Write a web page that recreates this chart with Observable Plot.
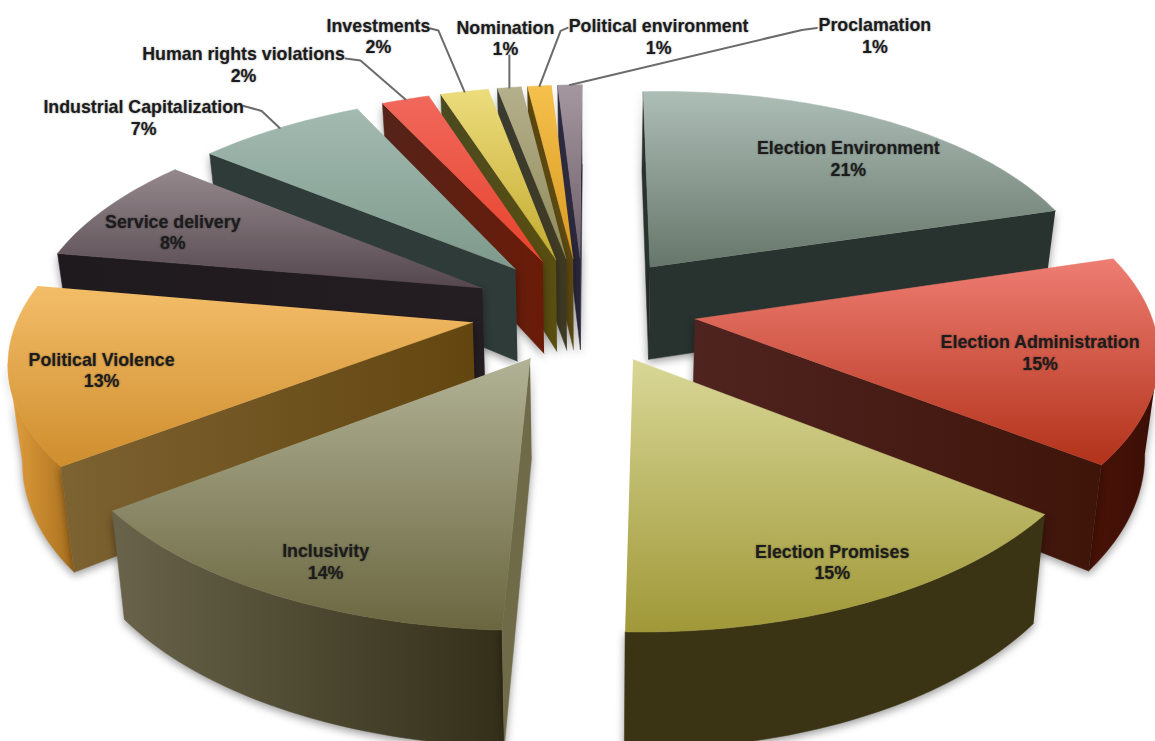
<!DOCTYPE html>
<html>
<head>
<meta charset="utf-8">
<script src="https://cdn.jsdelivr.net/npm/d3@7"></script>
<script src="https://cdn.jsdelivr.net/npm/@observablehq/plot@0.6"></script>
<style>
  html, body { margin: 0; padding: 0; background: #fff; }
  svg g[fill^="url(#rim"], svg g[fill^="url(#cut"] { filter: drop-shadow(0 3px 4px rgba(0,0,0,.4)); }
  svg g[aria-label="text"] text { text-shadow: 0 0 2px rgba(0,0,0,.45); }
</style>
</head>
<body>
<script>
// Shares of election-related themes, clockwise from twelve o'clock.
const categories = [
  "Election Environment", "Election Administration", "Election Promises", "Inclusivity",
  "Political Violence", "Service delivery", "Industrial Capitalization",
  "Human rights violations", "Investments", "Nomination", "Political environment", "Proclamation"
];
const shares = [21, 15, 15, 14, 13, 8, 7, 2, 2, 1, 1, 1];

// Face colours: [back of top face, front of top face]
const topColors = [
  ["#adbeb7", "#66766a"], ["#ee7d72", "#b2321a"], ["#d8d796", "#a09838"], ["#b2b296", "#6a6740"],
  ["#f3bd68", "#cf8e2e"], ["#94888d", "#54474d"], ["#a3bab0", "#7e9a8c"], ["#f0685c", "#e8432c"],
  ["#ecdc7c", "#c4ab30"], ["#b5b08c", "#8f8a5a"], ["#f5c04c", "#d89a20"], ["#a5979f", "#6c5f68"]
];
// Cut-face colours: [left, right]
const cutColors = [
  ["#28322f", "#28322f"], ["#4f2420", "#3f1409"], ["#3a3415", "#3a3415"], ["#6f6a48", "#6f6a48"],
  ["#7d6232", "#63460f"], ["#1f1a1e", "#241d22"], ["#2f3b38", "#2f3b38"], ["#55231a", "#6a1b08"],
  ["#4a4a20", "#5a4e10"], ["#3a3a30", "#3f3a22"], ["#5a4510", "#5e4a12"], ["#2d2a40", "#2d2a40"]
];
// Outer-wall colours: [left, right]
const rimColors = [
  ["#28322f", "#28322f"], ["#4a1206", "#3a0e05"], ["#3a3415", "#3a3415"], ["#68634a", "#332f19"],
  ["#e3a03e", "#a86f1e"], ["#1f1a1e", "#1f1a1e"], ["#2f3b38", "#2f3b38"], ["#55231a", "#55231a"],
  ["#4a4a20", "#4a4a20"], ["#3a3a30", "#3a3a30"], ["#5a4510", "#5a4510"], ["#2d2a40", "#2d2a40"]
];

// Label placement: radial fraction of the anchor, then the label's shift from that anchor.
const labelRadius = [0.6, 0.6, 0.6, 0.6, 0.6, 0.6, 1, 1, 1, 1, 1, 1];
const labelShift = [
  [50, -17], [67, 9], [62, 66], [-62, 70], [-100, 16], [-82, -7],
  [-136, -11], [-162, -35], [-86, -56], [-4, -50], [119, -50], [305, -50]
];
// Bend of each leader line, relative to its rim anchor; null where it runs straight.
const leaderBend = [null, null, null, null, null, null,
  [-18, -17], [-45, -39], [-26, -61], null, [21, -55], [232, -55]];
const leaderEnd = [null, null, null, null, null, null,
  [-36, -22], [-60, -41], [-34, -63], [0, -32], [28, -58], [247, -57]];

// View of the tilted, exploded pie.
const view = {
  cx: 593, cy: 309, aLeft: 460, aRight: 444, b: 214, tilt: 0.152, burst: 0.25,
  turn: -1, depth: 95, squeeze: 0.025, pivot: -8, lift: 5
};

const project = (X, Y) => {
  const s = 1 / (1 - view.tilt * Y);
  const a = X < 0 ? view.aLeft : view.aRight;
  return {x: view.cx + a * X * s, y: view.cy + view.b * Y * s - view.lift * Math.max(X, 0), s};
};
const below = (p) => ({
  x: view.cx + (p.x - view.cx) * (1 - view.squeeze),
  y: p.y + view.depth * p.s
});

const total = d3.sum(shares);
let running = 0;
const slices = shares.map((share, i) => {
  const a0 = (running / total) * 2 * Math.PI + view.turn * Math.PI / 180;
  running += share;
  const a1 = (running / total) * 2 * Math.PI + view.turn * Math.PI / 180;
  const mid = (a0 + a1) / 2;
  const ox = view.burst * Math.sin(mid), oy = -view.burst * Math.cos(mid);
  const polar = (a, r) => project(ox + r * Math.sin(a), oy - r * Math.cos(a));
  const steps = Math.max(4, Math.ceil(share * 3));
  const rim = d3.range(steps + 1).map((k) => polar(a0 + ((a1 - a0) * k) / steps, 1));
  const tip = polar(mid, 0);
  return {i, a0, a1, mid, apex: {...tip, x: tip.x + view.pivot}, rim, polar, oy};
});

// Back slices first so nearer ones paint over them.
const paintOrder = [...slices].sort((p, q) => p.oy - q.oy);

const quad = (p, q) => [p, q, below(q), below(p)];
const facesViewer = (p, q) => p.x > q.x;

const gradient = (id, from, to, vertical) => `
  <linearGradient id="${id}" x1="0" y1="0" x2="${vertical ? 0 : 1}" y2="${vertical ? 1 : 0}">
    <stop offset="0" stop-color="${from}"/><stop offset="1" stop-color="${to}"/>
  </linearGradient>`;

const defsMark = () => {
  const g = document.createElementNS("http://www.w3.org/2000/svg", "defs");
  g.innerHTML = categories.map((_, i) =>
    gradient(`top${i}`, topColors[i][0], topColors[i][1], true) +
    gradient(`cut${i}`, cutColors[i][0], cutColors[i][1], false) +
    gradient(`rim${i}`, rimColors[i][0], rimColors[i][1], false)
  ).join("");
  return g;
};

const face = (points, paint) =>
  Plot.line(points, {x: "x", y: "y", fill: paint, stroke: paint, strokeWidth: 0.5});

const sliceMarks = paintOrder.flatMap(({i, apex, rim}) => {
  const marks = [];
  const first = rim[0], last = rim[rim.length - 1];
  // Outer wall: the run of rim segments turned toward the viewer.
  const visible = rim.slice(0, -1).flatMap((p, k) => (facesViewer(p, rim[k + 1]) ? [p, rim[k + 1]] : []));
  if (visible.length) {
    marks.push(face([...visible, ...visible.map(below).reverse()], `url(#rim${i})`));
  }
  if (facesViewer(apex, first)) marks.push(face(quad(apex, first), `url(#cut${i})`));
  if (facesViewer(last, apex)) marks.push(face(quad(last, apex), `url(#cut${i})`));
  marks.push(face([apex, ...rim], `url(#top${i})`));
  return marks;
});

const labels = slices.map(({i, mid, polar}) => {
  const p = polar(mid, labelRadius[i]);
  return {text: `${categories[i]}\n${shares[i]}%`, x: p.x + labelShift[i][0], y: p.y + labelShift[i][1]};
});

const leaders = slices.flatMap(({i, mid, polar}) => {
  if (!leaderEnd[i]) return [];
  const p = polar(mid, 1);
  const bend = leaderBend[i] ? [{i, x: p.x + leaderBend[i][0], y: p.y + leaderBend[i][1]}] : [];
  return [{i, x: p.x, y: p.y}, ...bend, {i, x: p.x + leaderEnd[i][0], y: p.y + leaderEnd[i][1]}];
});

const chart = Plot.plot({
  width: 1155,
  height: 741,
  margin: 0,
  x: {domain: [0, 1155], range: [0, 1155], axis: null},
  y: {domain: [0, 741], range: [0, 741], axis: null},
  style: {background: "#fff"},
  marks: [
    defsMark,
    ...sliceMarks,
    Plot.line(leaders, {x: "x", y: "y", z: "i", stroke: "#6b6b6b", strokeWidth: 2}),
    Plot.text(labels, {
      x: "x", y: "y", text: "text",
      fontFamily: "Liberation Sans", fontWeight: "bold", fontSize: 17.8, lineHeight: 1.22,
      fill: "#1c1c1c"
    })
  ]
});
document.body.appendChild(chart);
</script>
</body>
</html>
